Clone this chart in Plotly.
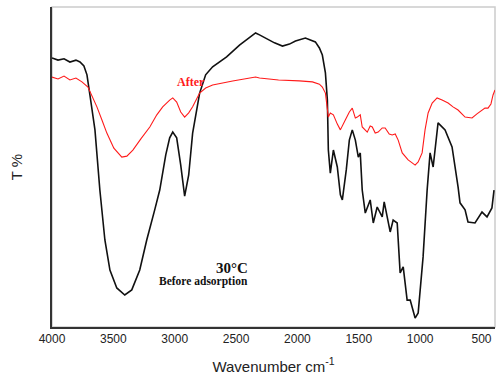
import plotly.graph_objects as go

# FTIR spectra, transmittance (arbitrary %) vs wavenumber (cm^-1)
wn_before = [4000, 3951, 3902, 3854, 3805, 3772, 3740, 3715, 3691, 3650, 3610, 3569, 3528, 3472,
             3407, 3350, 3285, 3228, 3163, 3122, 3073, 3041, 3016, 2984, 2951, 2919, 2886, 2854,
             2797, 2748, 2691, 2577, 2472, 2390, 2341, 2309, 2260, 2187, 2122, 2065, 2016, 1935,
             1854, 1821, 1797, 1772, 1756, 1748, 1732, 1707, 1675, 1650, 1634, 1602, 1577, 1553,
             1528, 1504, 1488, 1472, 1447, 1407, 1382, 1350, 1309, 1293, 1244, 1220, 1187, 1163,
             1138, 1106, 1081, 1041, 1016, 976, 943, 935, 919, 894, 854, 797, 740, 691, 675, 634,
             610, 553, 496, 455, 415, 398]
t_before = [84.1, 83.4, 83.8, 82.8, 83.4, 82.8, 81.6, 78.8, 72.5, 61.6, 42.8, 27.2, 17.8, 12.2,
            10.0, 11.6, 17.8, 27.2, 36.6, 42.8, 53.8, 59.1, 60.9, 59.1, 50.6, 40.9, 47.5, 60.6,
            73.1, 78.8, 81.3, 84.4, 88.1, 90.3, 91.9, 91.3, 90.3, 88.8, 87.8, 88.4, 89.4, 90.3,
            89.1, 87.2, 85.0, 79.4, 70.9, 55.3, 48.1, 55.3, 50.0, 41.3, 39.7, 49.1, 58.4, 61.6,
            58.4, 53.1, 54.4, 42.8, 35.6, 39.7, 32.5, 37.5, 34.4, 39.1, 29.7, 33.4, 32.5, 16.9,
            18.8, 8.4, 8.4, 2.8, 4.4, 21.9, 42.8, 46.9, 54.4, 50.0, 63.8, 61.6, 56.3, 43.8, 38.8,
            36.6, 32.8, 32.5, 35.9, 34.4, 37.2, 42.8]

wn_after = [4000, 3951, 3902, 3854, 3805, 3756, 3707, 3675, 3634, 3593, 3553, 3496, 3431, 3390,
            3341, 3276, 3203, 3146, 3098, 3041, 3016, 2984, 2951, 2919, 2886, 2854, 2797, 2748,
            2691, 2528, 2390, 2341, 2309, 2154, 1984, 1878, 1821, 1797, 1772, 1748, 1732, 1707,
            1675, 1650, 1610, 1577, 1553, 1528, 1512, 1488, 1472, 1431, 1407, 1390, 1366, 1342,
            1309, 1285, 1252, 1228, 1203, 1179, 1146, 1122, 1098, 1065, 1041, 1016, 984, 960,
            935, 902, 862, 821, 772, 732, 691, 634, 602, 577, 537, 496, 472, 447, 423, 406, 390]
t_after = [78.1, 77.5, 78.4, 77.2, 77.8, 76.6, 75.0, 72.5, 68.8, 64.7, 60.6, 55.9, 53.1, 53.4,
           55.3, 58.8, 62.5, 66.3, 68.8, 70.9, 71.6, 70.3, 67.2, 65.6, 66.9, 68.8, 73.1, 74.7,
           75.6, 76.9, 77.8, 78.1, 77.8, 77.2, 76.9, 76.6, 75.9, 75.0, 73.1, 65.6, 66.9, 66.3,
           63.4, 61.6, 64.7, 67.2, 68.4, 65.3, 65.6, 66.3, 62.5, 60.9, 62.8, 62.5, 60.6, 60.9,
           62.2, 62.2, 60.3, 60.0, 60.3, 58.4, 54.4, 53.1, 52.2, 51.3, 50.6, 51.6, 54.4, 61.6,
           66.9, 70.0, 71.6, 70.9, 70.0, 68.8, 67.8, 65.6, 65.3, 65.3, 66.6, 67.8, 68.4, 68.4,
           69.7, 72.5, 74.1]

x_ticks = [4000, 3500, 3000, 2500, 2000, 1500, 1000, 500]

fig = go.Figure()
fig.add_trace(go.Scatter(x=wn_before, y=t_before, mode="lines",
                         line=dict(color="#111111", width=1.6), showlegend=False))
fig.add_trace(go.Scatter(x=wn_after, y=t_after, mode="lines",
                         line=dict(color="#ff1a1a", width=1.1), showlegend=False))

serif = "Liberation Serif, Times New Roman, serif"
fig.add_annotation(x=2870, y=76.5, text="<b>After</b>", showarrow=False,
                   font=dict(family=serif, size=12, color="#ff1a1a"))
fig.add_annotation(x=2390, y=18.5, text="<b>30°C</b>", showarrow=False, xanchor="right",
                   font=dict(family=serif, size=15, color="#111111"))
fig.add_annotation(x=2390, y=14.3, text="<b>Before adsorption</b>", showarrow=False,
                   xanchor="right", font=dict(family=serif, size=11.5, color="#111111"))

# light frame around the plotting area
fig.add_shape(type="rect", xref="paper", yref="paper", x0=0, y0=0, x1=1, y1=1,
              line=dict(color="#cccccc", width=1.5), layer="below")

fig.update_layout(
    width=496, height=378,
    margin=dict(l=52, r=1, t=7, b=51),
    paper_bgcolor="white", plot_bgcolor="white",
    font=dict(family="Liberation Sans, Arial, sans-serif", color="#222222"),
    xaxis=dict(range=[4000, 390], tickvals=x_ticks, ticks="", showgrid=False,
               zeroline=False, showline=True, linecolor="#333333", linewidth=1.5,
               tickfont=dict(size=12),
               title=dict(text="Wavenumber cm<sup>-1</sup>", font=dict(size=15), standoff=16)),
    yaxis=dict(range=[0, 100], showticklabels=False, ticks="", showgrid=False,
               zeroline=False, showline=True, linecolor="#333333", linewidth=1.5,
               title=dict(text="T %", font=dict(size=15), standoff=24)),
)

fig.write_html("out.html")
